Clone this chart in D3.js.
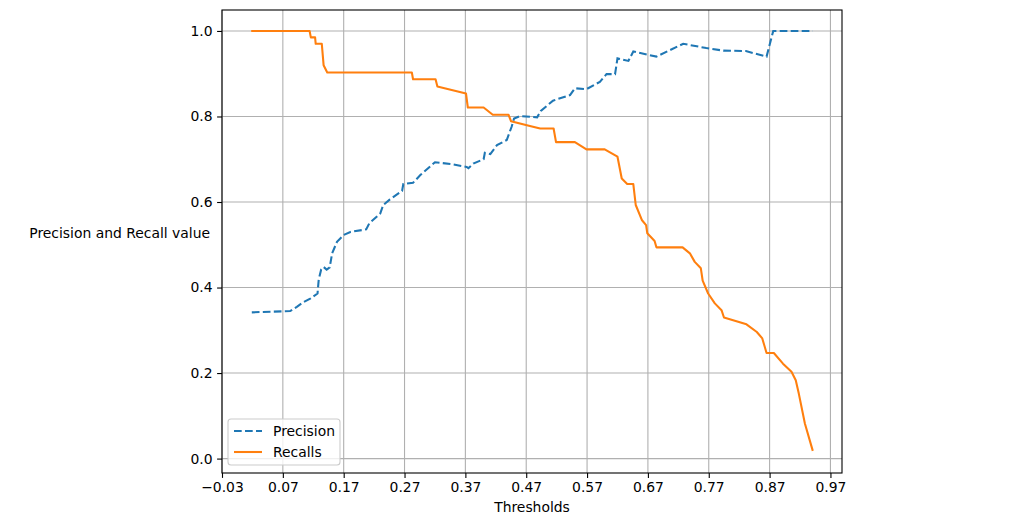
<!DOCTYPE html>
<html>
<head>
<meta charset="UTF-8">
<script src="https://cdn.jsdelivr.net/npm/d3@7"></script>
<style>
  body { margin: 0; background: #fff; }
  svg text { font-family: "DejaVu Sans", sans-serif; font-size: 13.9px; fill: #000; }
</style>
</head>
<body>
<svg id="chart" width="1032" height="523"></svg>
<script>
// thresholds + values
var precThresholds = [0.019, 0.082, 0.093, 0.104, 0.115, 0.127, 0.129, 0.133, 0.137, 0.142, 0.147, 0.151, 0.159, 0.170, 0.181, 0.207, 0.212, 0.230, 0.235, 0.246, 0.266, 0.268, 0.284, 0.296, 0.320, 0.350, 0.372, 0.375, 0.383, 0.400, 0.402, 0.411, 0.422, 0.438, 0.446, 0.450, 0.460, 0.488, 0.494, 0.514, 0.520, 0.542, 0.550, 0.569, 0.591, 0.602, 0.616, 0.620, 0.638, 0.646, 0.684, 0.728, 0.766, 0.794, 0.831, 0.865, 0.876, 0.941];
var precision = [0.342, 0.345, 0.355, 0.366, 0.374, 0.386, 0.419, 0.442, 0.448, 0.442, 0.447, 0.480, 0.507, 0.523, 0.530, 0.536, 0.550, 0.573, 0.593, 0.606, 0.626, 0.642, 0.645, 0.663, 0.693, 0.688, 0.682, 0.679, 0.690, 0.700, 0.715, 0.712, 0.733, 0.745, 0.776, 0.795, 0.801, 0.798, 0.813, 0.837, 0.840, 0.850, 0.866, 0.864, 0.881, 0.899, 0.899, 0.936, 0.930, 0.952, 0.940, 0.970, 0.960, 0.954, 0.953, 0.940, 1.0, 1.0];

var recThresholds = [0.018, 0.114, 0.116, 0.123, 0.124, 0.134, 0.137, 0.143, 0.282, 0.284, 0.321, 0.324, 0.371, 0.374, 0.400, 0.415, 0.441, 0.445, 0.476, 0.493, 0.515, 0.519, 0.550, 0.569, 0.599, 0.620, 0.627, 0.636, 0.646, 0.650, 0.660, 0.667, 0.669, 0.681, 0.684, 0.727, 0.739, 0.747, 0.757, 0.760, 0.769, 0.780, 0.791, 0.795, 0.832, 0.849, 0.858, 0.865, 0.877, 0.892, 0.906, 0.913, 0.918, 0.928, 0.941];
var recalls = [1.0, 1.0, 0.985, 0.985, 0.970, 0.970, 0.920, 0.903, 0.903, 0.887, 0.887, 0.870, 0.854, 0.821, 0.821, 0.804, 0.804, 0.789, 0.778, 0.772, 0.772, 0.740, 0.740, 0.723, 0.723, 0.706, 0.655, 0.642, 0.642, 0.593, 0.558, 0.546, 0.527, 0.509, 0.494, 0.494, 0.480, 0.460, 0.445, 0.416, 0.386, 0.363, 0.347, 0.330, 0.314, 0.296, 0.281, 0.247, 0.247, 0.222, 0.203, 0.183, 0.152, 0.082, 0.018];

var xTicks = [-0.03, 0.07, 0.17, 0.27, 0.37, 0.47, 0.57, 0.67, 0.77, 0.87, 0.97];
var yTicks = [0.0, 0.2, 0.4, 0.6, 0.8, 1.0];

// plot box (note: "top" is a reserved window prop, so prefix these)
var mLeft = 222, mRight = 842, mTop = 10, mBottom = 473;
var lw = 2.08, thin = 1.1, dash = "7.7,3.3";

var x = d3.scaleLinear().domain([-0.03, 0.989]).range([mLeft, mRight]);
var y = d3.scaleLinear().domain([-0.0337, 1.049]).range([mBottom, mTop]);

var svg = d3.select("#chart");

// grid
svg.append("g").selectAll("line").data(xTicks).enter().append("line")
  .attr("x1", function(d) { return x(d); }).attr("x2", function(d) { return x(d); })
  .attr("y1", mTop).attr("y2", mBottom)
  .attr("stroke", "#b0b0b0").attr("stroke-width", thin);
svg.append("g").selectAll("line").data(yTicks).enter().append("line")
  .attr("y1", function(d) { return y(d); }).attr("y2", function(d) { return y(d); })
  .attr("x1", mLeft).attr("x2", mRight)
  .attr("stroke", "#b0b0b0").attr("stroke-width", thin);

// lines
var precLine = d3.line()
  .x(function(d, i) { return x(precThresholds[i]); })
  .y(function(d) { return y(d); });
var recLine = d3.line()
  .x(function(d, i) { return x(recThresholds[i]); })
  .y(function(d) { return y(d); });

svg.append("path").datum(precision).attr("d", precLine)
  .attr("fill", "none").attr("stroke", "#1f77b4").attr("stroke-width", lw)
  .attr("stroke-dasharray", dash);
svg.append("path").datum(recalls).attr("d", recLine)
  .attr("fill", "none").attr("stroke", "#ff7f0e").attr("stroke-width", lw)
  .attr("stroke-linejoin", "round");

// axes
var xAxis = d3.axisBottom(x).tickValues(xTicks).tickSize(4.9).tickPadding(4.5)
  .tickFormat(function(d) { return d3.format(".2f")(d).replace("-", "\u2212"); });
var yAxis = d3.axisLeft(y).tickValues(yTicks).tickSize(4.9).tickPadding(4.5)
  .tickFormat(d3.format(".1f"));

var gx = svg.append("g").attr("transform", "translate(0," + mBottom + ")").call(xAxis);
var gy = svg.append("g").attr("transform", "translate(" + mLeft + ",0)").call(yAxis);
[gx, gy].forEach(function(g) {
  g.select(".domain").remove();
  g.selectAll("line").attr("stroke", "#000").attr("stroke-width", thin);
  g.selectAll("text").attr("font-family", "DejaVu Sans").attr("font-size", "13.9px").attr("fill", "#000");
});

// frame
svg.append("rect").attr("x", mLeft).attr("y", mTop)
  .attr("width", mRight - mLeft).attr("height", mBottom - mTop)
  .attr("fill", "none").attr("stroke", "#000").attr("stroke-width", thin);

// labels
svg.append("text").attr("x", (mLeft + mRight) / 2).attr("y", 512)
  .attr("text-anchor", "middle").text("Thresholds");
svg.append("text").attr("x", 210).attr("y", 238)
  .attr("text-anchor", "end").text("Precision and Recall value");

// legend
var legend = svg.append("g");
legend.append("rect").attr("x", 228).attr("y", 419).attr("width", 112).attr("height", 46)
  .attr("rx", 3).attr("fill", "#fff").attr("fill-opacity", 0.8)
  .attr("stroke", "#cccccc").attr("stroke-width", thin);
var items = [
  { name: "Precision", color: "#1f77b4", dash: dash },
  { name: "Recalls", color: "#ff7f0e", dash: null }
];
items.forEach(function(it, i) {
  var cy = 431 + i * 21;
  legend.append("line").attr("x1", 234).attr("x2", 262).attr("y1", cy).attr("y2", cy)
    .attr("stroke", it.color).attr("stroke-width", lw)
    .attr("stroke-dasharray", it.dash);
  legend.append("text").attr("x", 273).attr("y", cy + 5).text(it.name);
});
</script>
</body>
</html>
